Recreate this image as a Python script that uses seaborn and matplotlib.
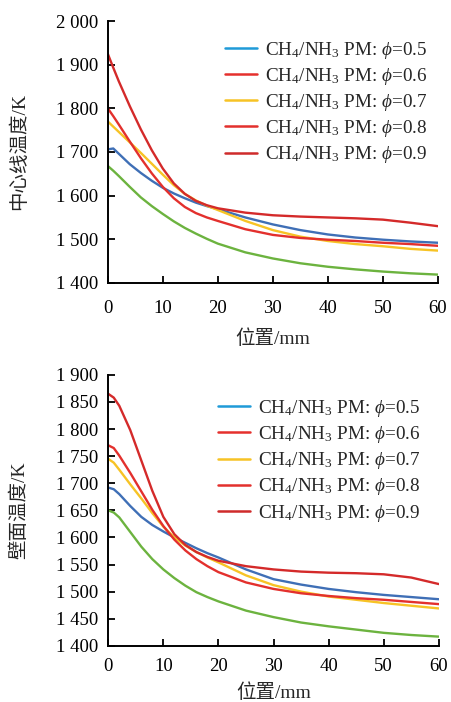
import matplotlib
matplotlib.use("Agg")
import matplotlib.pyplot as plt
from matplotlib.lines import Line2D
from matplotlib.ticker import FuncFormatter, MultipleLocator
import pandas as pd
import seaborn as sns

# position along the burner (mm)
x_mm = [0, 1, 2, 4, 6, 8, 10, 12, 14, 16, 18, 20, 25, 30, 35, 40, 45, 50, 55, 60]

# centre-line temperature (K), one list per drawn curve
center_green = [1668, 1657, 1645, 1620, 1596, 1576, 1558, 1541, 1526, 1513, 1501, 1490, 1470, 1456, 1445, 1437, 1431, 1426, 1422, 1419]
center_blue = [1706, 1708, 1696, 1672, 1652, 1634, 1618, 1605, 1594, 1584, 1576, 1569, 1550, 1534, 1521, 1511, 1504, 1499, 1495, 1492]
center_yellow = [1770, 1758, 1746, 1722, 1698, 1673, 1648, 1624, 1604, 1589, 1577, 1567, 1542, 1521, 1506, 1496, 1489, 1484, 1478, 1474]
center_red = [1800, 1782, 1763, 1724, 1686, 1651, 1620, 1594, 1574, 1560, 1550, 1542, 1523, 1510, 1503, 1499, 1496, 1492, 1489, 1485]
center_darkred = [1925, 1893, 1862, 1805, 1752, 1704, 1662, 1628, 1604, 1588, 1578, 1571, 1561, 1555, 1552, 1550, 1548, 1545, 1538, 1530]

# wall temperature (K)
wall_green = [1650, 1646, 1637, 1610, 1583, 1560, 1541, 1525, 1511, 1499, 1490, 1482, 1465, 1453, 1443, 1436, 1430, 1424, 1420, 1417]
wall_blue = [1692, 1689, 1680, 1658, 1638, 1623, 1611, 1600, 1590, 1580, 1571, 1563, 1541, 1523, 1513, 1505, 1499, 1494, 1490, 1486]
wall_yellow = [1745, 1738, 1725, 1698, 1672, 1645, 1620, 1600, 1585, 1573, 1563, 1554, 1530, 1512, 1500, 1491, 1485, 1479, 1474, 1469]
wall_red = [1770, 1765, 1751, 1719, 1685, 1651, 1621, 1596, 1576, 1560, 1547, 1536, 1517, 1505, 1497, 1492, 1488, 1485, 1481, 1477]
wall_darkred = [1865, 1858, 1843, 1798, 1742, 1686, 1638, 1606, 1586, 1573, 1564, 1557, 1547, 1541, 1537, 1535, 1534, 1532, 1526, 1514]

curve_names = ["green", "blue", "yellow", "red", "darkred"]
curve_colors = ["#6cb33f", "#3f6fb6", "#f7c325", "#e3302d", "#d42a2a"]

phi_labels = ["0.5", "0.6", "0.7", "0.8", "0.9"]
legend_colors = ["#1f9ad8", "#e5302d", "#f7c325", "#e3302d", "#cf2b2b"]

SERIF = "Liberation Serif"
CJK = [SERIF, "Noto Sans CJK SC"]

sns.set_style("ticks")
plt.rcParams["font.family"] = [SERIF, "Noto Sans CJK SC", "DejaVu Sans"]
plt.rcParams["mathtext.fontset"] = "custom"
plt.rcParams["mathtext.rm"] = SERIF
plt.rcParams["mathtext.it"] = SERIF + ":italic"


def to_long(curves):
    frames = []
    for name, vals in zip(curve_names, curves):
        frames.append(pd.DataFrame({"x": x_mm, "T": vals, "curve": name}))
    return pd.concat(frames, ignore_index=True)


def draw_panel(ax, curves, ylim, ystep, ylabel, leg_anchor, xlabel_y, xpad):
    df = to_long(curves)
    sns.lineplot(data=df, x="x", y="T", hue="curve", hue_order=curve_names,
                 palette=dict(zip(curve_names, curve_colors)), linewidth=1.7,
                 legend=False, ax=ax)
    ax.set_xlim(0, 60)
    ax.set_ylim(*ylim)
    ax.xaxis.set_major_locator(MultipleLocator(10))
    ax.yaxis.set_major_locator(MultipleLocator(ystep))
    ax.yaxis.set_major_formatter(FuncFormatter(lambda v, p: f"{v:,.0f}".replace(",", " ")))
    ax.tick_params(direction="in", length=5, width=1.3, labelsize=13.5, colors="black")
    ax.tick_params(axis="y", pad=7)
    ax.tick_params(axis="x", pad=xpad)
    for s in ["top", "right"]:
        ax.spines[s].set_visible(False)
    for s in ["left", "bottom"]:
        ax.spines[s].set_linewidth(1.4)
        ax.spines[s].set_color("black")
    ax.set_xlabel("位置/mm", fontsize=14, family=CJK)
    ax.set_ylabel(ylabel, fontsize=14, family=CJK)
    ax.xaxis.set_label_coords(0.5, xlabel_y)
    ax.yaxis.set_label_coords(-0.24, 0.5)

    handles = [Line2D([], [], color=c, lw=1.8) for c in legend_colors]
    labels = [r"CH$_4$/NH$_3$ PM: $\it{\phi}$=" + p for p in phi_labels]
    ax.legend(handles, labels, loc="upper right", bbox_to_anchor=leg_anchor,
              frameon=False, fontsize=13.8, handlelength=1.7, handletextpad=0.42,
              labelspacing=0.27, borderpad=0, borderaxespad=0)


fig = plt.figure(figsize=(4.51, 7.02), dpi=100)
ax1 = fig.add_axes([0.239, 0.597, 0.732, 0.373])
ax2 = fig.add_axes([0.240, 0.080, 0.733, 0.386])

draw_panel(ax1, [center_green, center_blue, center_yellow, center_red, center_darkred],
           (1400, 2000), 100, "中心线温度/K", (0.97, 0.929), -0.177, 12)
draw_panel(ax2, [wall_green, wall_blue, wall_yellow, wall_red, wall_darkred],
           (1400, 1900), 50, "壁面温度/K", (0.946, 0.915), -0.137, 9)

fig.savefig("out.png", dpi=100, facecolor="white")
